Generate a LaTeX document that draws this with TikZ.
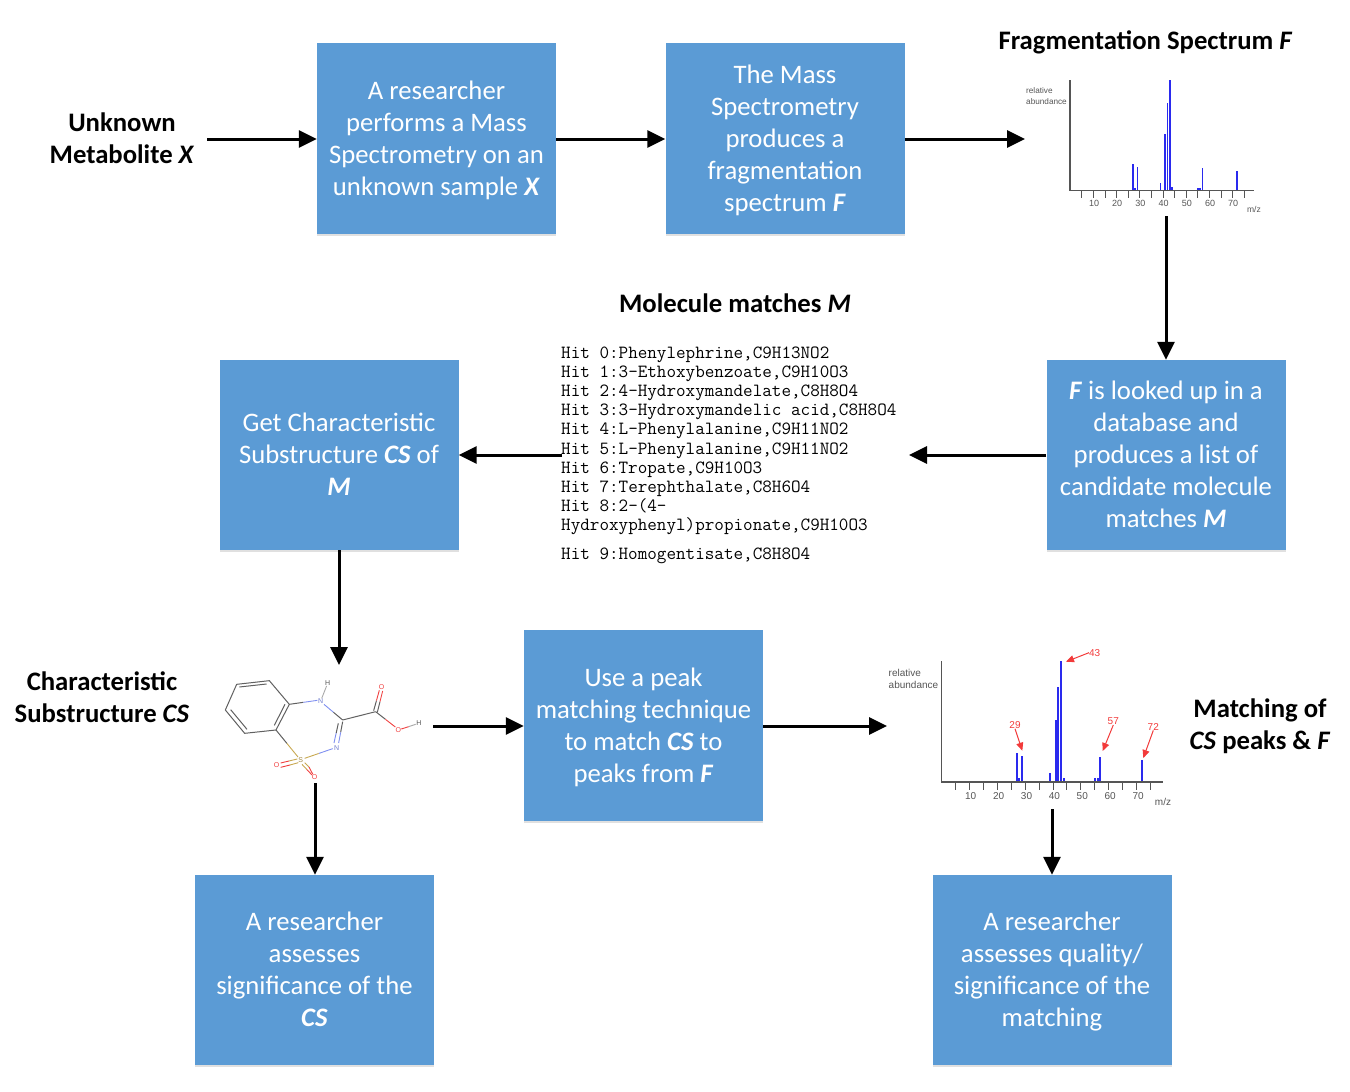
\documentclass[tikz,border=0pt]{standalone}
\usepackage{fontspec}
\setmainfont{Carlito}
\newfontfamily\specfont{Liberation Sans}
\usetikzlibrary{arrows.meta,shadows,calc}
\definecolor{boxblue}{HTML}{5B9BD5}
\definecolor{specblue}{HTML}{2A2AEE}
\definecolor{specred}{HTML}{F23A3A}
\definecolor{specgrey}{HTML}{555555}
\definecolor{bondgrey}{HTML}{606060}
\definecolor{nblue}{HTML}{7F8FF0}
\definecolor{ored}{HTML}{F04040}
\definecolor{sgold}{HTML}{C8A850}
\newcommand{\toppad}{\rule{0pt}{22pt}}
\newcommand{\botpad}{\rule[-2pt]{0pt}{1pt}}
\tikzset{
  flowbox/.style={draw=none,fill=boxblue,text=white,minimum width=239pt,minimum height=190pt,inner sep=0pt,align=center,
    font=\fontsize{26.7}{32}\selectfont,drop shadow={shadow xshift=0pt,shadow yshift=-1.5pt,opacity=.12,fill=black}},
  tallbox/.style={flowbox,minimum height=191pt},
  titlelabel/.style={align=center,inner sep=0pt,font=\fontsize{26.7}{32}\selectfont\bfseries},
  flowarrow/.style={draw=black,line width=3pt,-{Triangle[length=18pt,width=17pt]}},
  hitline/.style={anchor=base west,inner sep=0pt,yshift=-.7pt,font=\fontsize{18.6}{19}\selectfont\ttfamily},
  speclabel/.style={inner sep=0pt,text=specgrey,font=\fontsize{10}{12}\selectfont\specfont},
  redlabel/.style={inner sep=0pt,text=specred,font=\fontsize{10}{12}\selectfont\specfont},
  redarrow/.style={draw=specred,line width=1pt,-{Triangle[length=8pt,width=7pt]}},
  atom/.style={inner sep=0pt,font=\fontsize{7}{8}\selectfont\specfont},
  bond/.style={draw=bondgrey,line width=1pt},
  halfbond/.style={draw=#1,line width=.9pt},
}
\newcommand{\hbond}[3]{% from A (grey) to B (colour #3)
  \draw[bond] (#1) -- ($(#1)!.5!(#2)$);
  \draw[halfbond=#3] ($(#1)!.5!(#2)$) -- (#2);}
\begin{document}
\begin{tikzpicture}[x=1pt,y=-1pt]
\useasboundingbox (0,0) rectangle (1350,1092);

% boxes
\node[tallbox] (b1) at (436.5,138.5) {\toppad A researcher\\performs a Mass\\Spectrometry on an\\unknown sample \textbf{\textit{X}}};
\node[tallbox] (b2) at (785,138.5) {\toppad The Mass\\Spectrometry\\produces a\\fragmentation\\spectrum \textbf{\textit{F}}};
\node[flowbox] (b3) at (1166,455) {\textbf{\textit{F}} is looked up in a\\database and\\produces a list of\\candidate molecule\\matches \textbf{\textit{M}}\botpad};
\node[flowbox] (b4) at (339,455) {Get Characteristic\\Substructure \textbf{\textit{CS}} of\\\textbf{\textit{M}}\botpad};
\node[tallbox] (b5) at (643.5,725.5) {\toppad Use a peak\\matching technique\\to match \textbf{\textit{CS}} to\\peaks from \textbf{\textit{F}}};
\node[flowbox] (b6) at (314.5,970) {A researcher\\assesses\\significance of the\\\textbf{\textit{CS}}\botpad};
\node[flowbox] (b7) at (1052,970) {\toppad A researcher\\assesses quality/\\significance of the\\matching};

% titles
\node[titlelabel] (tx) at (122,138) {Unknown\\Metabolite \textit{X}};
\node[titlelabel] (tf) at (1145.5,42) {Fragmentation Spectrum \textit{F}};
\node[titlelabel] (tm) at (735,303) {Molecule matches \textit{M}};
\node[titlelabel] (tc) at (102,697) {Characteristic\\Substructure \textit{CS}};
\node[titlelabel] (tp) at (1260,726) {Matching of\\\textit{CS} peaks \& \textit{F}};

% hit list
\node[hitline] (h0) at (561,358) {Hit 0:Phenylephrine,C9H13NO2};
\node[hitline] (h1) at (561,377) {Hit 1:3-Ethoxybenzoate,C9H10O3};
\node[hitline] (h2) at (561,396) {Hit 2:4-Hydroxymandelate,C8H8O4};
\node[hitline] (h3) at (561,415) {Hit 3:3-Hydroxymandelic acid,C8H8O4};
\node[hitline] (h4) at (561,434) {Hit 4:L-Phenylalanine,C9H11NO2};
\node[hitline] (h5) at (561,454) {Hit 5:L-Phenylalanine,C9H11NO2};
\node[hitline] (h6) at (561,473) {Hit 6:Tropate,C9H10O3};
\node[hitline] (h7) at (561,492) {Hit 7:Terephthalate,C8H6O4};
\node[hitline] (h8) at (561,511) {Hit 8:2-(4-};
\node[hitline] (h8b) at (561,530) {Hydroxyphenyl)propionate,C9H10O3};
\node[hitline] (h9) at (561,559) {Hit 9:Homogentisate,C8H8O4};

% free ends of connectors
\coordinate (xout) at (207,139);
\coordinate (specin) at (1025,139);
\coordinate (specout) at (1166,216);
\coordinate (hitsin) at (909,455);
\coordinate (hitsout) at (562,455);
\coordinate (molin) at (339,665);
\coordinate (molout) at (433,726);
\coordinate (molout2) at (315,783);
\coordinate (matchin) at (887,726);
\coordinate (matchout) at (1052,809);

\draw[flowarrow] (xout) -- (xout-|b1.west);
\draw[flowarrow] (b1.east|-xout) -- (b2.west|-xout);
\draw[flowarrow] (b2.east|-xout) -- (specin);
\draw[flowarrow] (specout) -- (specout|-b3.north);
\draw[flowarrow] (b3.west) -- (hitsin);
\draw[flowarrow] (hitsout) -- (b4.east);
\draw[flowarrow] (b4.south) -- (molin);
\draw[flowarrow] (molout) -- (molout-|b5.west);
\draw[flowarrow] (b5.east|-matchin) -- (matchin);
\draw[flowarrow] (molout2) -- (molout2|-b6.north);
\draw[flowarrow] (matchout) -- (matchout|-b7.north);

% spectrum 1
\begin{scope}[shift={(1070.1,0)},x=2.32pt]
  \foreach \m/\t in {27/164,28/188,29/166.7,39/183,41/134,42/103,43/80,44/187,55/188,56/188,57/167.7,72/171}
    \draw[specblue,line width=1.6pt] (\m,190.7) -- (\m,\t);
  \foreach \m in {5,10,...,75}
    \draw[specgrey,line width=.8pt] (\m,190.7) -- (\m,197.5);
  \foreach \m in {10,20,...,70}
    \node[speclabel,xshift=.7pt,font=\fontsize{9}{10}\selectfont\specfont] (sa\m) at (\m,203) {\m};
\end{scope}
\draw[specgrey,line width=1.1pt] (1070,80) -- (1070,190.7) -- (1254,190.7);
\node[speclabel,font=\fontsize{8.2}{11}\selectfont\specfont,anchor=north west,align=left] (sarel) at (1026,87) {relative\\abundance};
\node[speclabel,font=\fontsize{8.5}{10}\selectfont\specfont] (samz) at (1254,209) {m/z};

% spectrum 2
\begin{scope}[shift={(941.3,0)},x=2.79pt]
  \foreach \m/\t in {27/753,28/778,29/756,39/773,41/720,42/686.7,43/660.7,44/777.7,55/778,56/778,57/756.7,72/760}
    \draw[specblue,line width=2pt] (\m,782) -- (\m,\t);
  \foreach \m in {5,10,...,75}
    \draw[specgrey,line width=.8pt] (\m,782) -- (\m,790);
  \foreach \m in {10,20,...,70}
    \node[speclabel,xshift=1.5pt] (sb\m) at (\m,796) {\m};
\end{scope}
\draw[specgrey,line width=1.1pt] (941.3,661) -- (941.3,782) -- (1163,782);
\node[speclabel,anchor=north west,align=left] (sbrel) at (888.5,669.5) {relative\\abundance};
\node[speclabel] (sbmz) at (1163,802) {m/z};

\node[redlabel] (r43) at (1094.7,652.7) {43};
\node[redlabel] (r29) at (1015,725) {29};
\node[redlabel] (r57) at (1113.3,721.3) {57};
\node[redlabel] (r72) at (1153.3,726.7) {72};
\coordinate (p43) at (1066,661.7);
\coordinate (p29) at (1022.3,750.7);
\coordinate (p57) at (1102.7,751);
\coordinate (p72) at (1143.3,758);
\draw[redarrow] (r43.west) -- (p43);
\draw[redarrow] (r29.south) -- (p29);
\draw[redarrow] (r57.south) -- (p57);
\draw[redarrow] (r72.south) -- (p72);

% molecule
\begin{scope}[shift={(210,665)},x=.3333pt,y=-.3333pt]
  \coordinate (c1) at (80,58);
  \coordinate (c2) at (178,47);
  \coordinate (c3) at (238,118);
  \coordinate (c4) at (198,195);
  \coordinate (c5) at (104,205);
  \coordinate (c6) at (46,135);
  \coordinate (c7) at (398,165);
  \coordinate (c8) at (497,140);
  \draw[bond] (c1) -- (c2) -- (c3) -- (c4) -- (c5) -- (c6) -- cycle;
  \draw[bond] (88,66) -- (170,57);
  \draw[bond] (225,118) -- (193,181);
  \draw[bond] (111,193) -- (62,134);
  \node[atom,text=nblue!85!black] (n1) at (332,108) {N};
  \node[atom,text=specgrey] (hn) at (353,55) {H};
  \node[atom,text=nblue!85!black] (n2) at (380,248) {N};
  \node[atom,text=sgold!80!black] (su) at (272,285) {S};
  \node[atom,text=ored] (o1) at (200,300) {O};
  \node[atom,text=ored] (o2) at (314,336) {O};
  \node[atom,text=ored] (o3) at (515,67) {O};
  \node[atom,text=ored] (o4) at (565,195) {O};
  \node[atom,text=specgrey] (ho) at (627,175) {H};
  \coordinate (n1a) at (322,106);
  \coordinate (n1b) at (342,118);
  \hbond{c3}{n1a}{nblue}
  \draw[halfbond=specgrey!50] (n1) -- (hn);
  \hbond{c7}{n1b}{nblue}
  \draw[bond] (c7) -- (c8);
  \hbond{385,175}{372,234}{nblue}
  \hbond{398,170}{386,234}{nblue}
  \coordinate (n2a) at (368,251);
  \coordinate (sa) at (284,280);
  \draw[halfbond=nblue] (n2a) -- ($(n2a)!.5!(sa)$);
  \draw[halfbond=sgold] ($(n2a)!.5!(sa)$) -- (sa);
  \coordinate (sb) at (264,276);
  \hbond{c4}{sb}{sgold}
  \draw[halfbond=sgold] (262,282) -- (237,288);
  \draw[halfbond=ored] (237,288) -- (212,294);
  \draw[halfbond=sgold] (265,293) -- (240,300);
  \draw[halfbond=ored] (240,300) -- (212,307);
  \draw[halfbond=sgold] (284,293) -- (297,306);
  \draw[halfbond=ored] (297,306) -- (308,327);
  \draw[halfbond=sgold] (276,298) -- (291,314);
  \draw[halfbond=ored] (291,314) -- (306,330);
  \hbond{491,137}{508,76}{ored}
  \hbond{502,142}{518,78}{ored}
  \coordinate (o4a) at (556,186);
  \hbond{c8}{o4a}{ored}
  \draw[halfbond=ored] (574,192) -- (596,185);
  \draw[halfbond=specgrey!50] (596,185) -- (617,178);
\end{scope}
\end{tikzpicture}
\end{document}
